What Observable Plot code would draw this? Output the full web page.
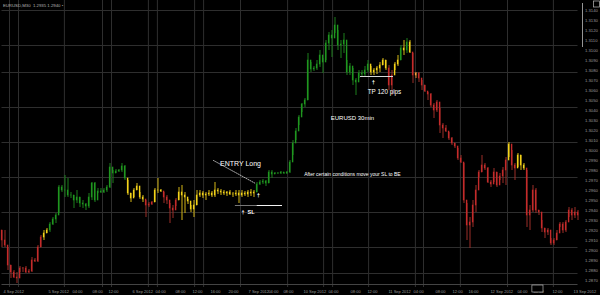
<!DOCTYPE html>
<html><head><meta charset="utf-8">
<script src="https://cdn.jsdelivr.net/npm/d3@7"></script>
<script src="https://cdn.jsdelivr.net/npm/@observablehq/plot@0.6"></script>
<style>
html,body{margin:0;padding:0;background:#000;}
#chart{width:600px;height:295px;overflow:hidden;}
</style></head><body><div id="chart"></div>
<script>
// EURUSD 30-minute bars (price)
const highs = [
1.2920,1.2920,1.2903,1.2885,1.2880,1.2878,1.2884,1.2883,1.2884,1.2881,
1.2893,1.2892,1.2905,1.2915,1.2920,1.2922,1.2928,1.2933,1.2937,1.2965,
1.2965,1.2975,1.2972,1.2958,1.2955,1.2960,1.2953,1.2950,1.2947,1.2957,
1.2968,1.2968,1.2962,1.2962,1.2962,1.2965,1.2987,1.2980,1.2981,1.2981,
1.2987,1.2985,1.2970,1.2957,1.2962,1.2967,1.2958,1.2955,1.2950,1.2948,
1.2949,1.2962,1.2972,1.2961,1.2958,1.2955,1.2947,1.2945,1.2952,1.2963,
1.2965,1.2958,1.2951,1.2945,1.2950,1.2960,1.2960,1.2959,1.2958,1.2960,
1.2959,1.2968,1.2962,1.2961,1.2960,1.2959,1.2960,1.2958,1.2960,1.2960,
1.2960,1.2959,1.2960,1.2961,1.2960,1.2968,1.2970,1.2971,1.2970,1.2980,
1.2980,1.2978,1.2978,1.2979,1.2978,1.2979,1.2990,1.3010,1.3022,1.3035,
1.3047,1.3052,1.3097,1.3088,1.3084,1.3090,1.3100,1.3092,1.3110,1.3118,
1.3120,1.3133,1.3120,1.3110,1.3117,1.3090,1.3087,1.3082,1.3072,1.3080,
1.3080,1.3084,1.3090,1.3084,1.3082,1.3084,1.3088,1.3092,1.3090,1.3085,
1.3080,1.3088,1.3095,1.3105,1.3110,1.3112,1.3110,1.3097,1.3078,1.3078,
1.3070,1.3065,1.3058,1.3057,1.3047,1.3050,1.3042,1.3027,1.3025,1.3018,
1.3013,1.3007,1.3002,1.2995,1.2987,1.2947,1.2933,1.2950,1.2965,1.2980,
1.2995,1.2987,1.2983,1.2970,1.2982,1.2978,1.2977,1.2983,1.2993,1.3008,
1.3000,1.2987,1.2997,1.2995,1.2987,1.2980,1.2945,1.2965,1.2962,1.2940,
1.2930,1.2922,1.2922,1.2912,1.2912,1.2920,1.2928,1.2928,1.2930,1.2943,
1.2942,1.2943,1.2940];
const lows = [
1.2903,1.2903,1.2880,1.2872,1.2872,1.2867,1.2878,1.2878,1.2877,1.2877,
1.2878,1.2888,1.2888,1.2903,1.2910,1.2917,1.2918,1.2925,1.2927,1.2937,
1.2958,1.2953,1.2953,1.2952,1.2942,1.2947,1.2943,1.2942,1.2940,1.2942,
1.2950,1.2948,1.2957,1.2957,1.2957,1.2958,1.2962,1.2967,1.2977,1.2978,
1.2978,1.2970,1.2955,1.2948,1.2953,1.2960,1.2951,1.2948,1.2933,1.2943,
1.2945,1.2948,1.2957,1.2958,1.2947,1.2946,1.2927,1.2932,1.2944,1.2950,
1.2930,1.2937,1.2946,1.2938,1.2933,1.2945,1.2953,1.2952,1.2950,1.2954,
1.2953,1.2953,1.2956,1.2955,1.2955,1.2954,1.2955,1.2953,1.2954,1.2947,
1.2953,1.2954,1.2953,1.2954,1.2953,1.2958,1.2965,1.2966,1.2964,1.2967,
1.2972,1.2976,1.2976,1.2976,1.2976,1.2976,1.2977,1.2995,1.3010,1.3025,
1.3038,1.3043,1.3050,1.3078,1.3079,1.3080,1.3083,1.3077,1.3090,1.3100,
1.3093,1.3117,1.3100,1.3092,1.3097,1.3075,1.3075,1.3065,1.3055,1.3072,
1.3073,1.3074,1.3078,1.3075,1.3075,1.3076,1.3078,1.3085,1.3080,1.3060,
1.3055,1.3080,1.3084,1.3090,1.3095,1.3097,1.3097,1.3067,1.3072,1.3068,
1.3060,1.3058,1.3050,1.3043,1.3032,1.3038,1.3017,1.3012,1.3018,1.3010,
1.3005,1.3002,1.2990,1.2987,1.2947,1.2910,1.2902,1.2923,1.2938,1.2973,
1.2978,1.2980,1.2967,1.2963,1.2968,1.2963,1.2970,1.2967,1.2965,1.2993,
1.2980,1.2970,1.2983,1.2980,1.2980,1.2923,1.2920,1.2938,1.2937,1.2935,
1.2918,1.2912,1.2915,1.2905,1.2905,1.2910,1.2923,1.2917,1.2918,1.2933,
1.2930,1.2932,1.2930];
const closes = [
1.2910,1.2905,1.2885,1.2878,1.2873,1.2872,1.2882,1.2882,1.2878,1.2879,
1.2890,1.2889,1.2903,1.2913,1.2917,1.2920,1.2926,1.2931,1.2935,1.2963,
1.2960,1.2960,1.2955,1.2955,1.2950,1.2953,1.2947,1.2946,1.2944,1.2953,
1.2967,1.2950,1.2959,1.2958,1.2960,1.2963,1.2983,1.2977,1.2979,1.2980,
1.2984,1.2972,1.2957,1.2952,1.2960,1.2964,1.2953,1.2951,1.2945,1.2946,
1.2948,1.2960,1.2960,1.2959,1.2953,1.2950,1.2942,1.2940,1.2950,1.2958,
1.2955,1.2953,1.2949,1.2941,1.2945,1.2955,1.2957,1.2955,1.2956,1.2957,
1.2955,1.2960,1.2959,1.2958,1.2957,1.2958,1.2956,1.2956,1.2957,1.2955,
1.2957,1.2956,1.2958,1.2957,1.2958,1.2966,1.2968,1.2969,1.2967,1.2978,
1.2976,1.2977,1.2977,1.2978,1.2977,1.2978,1.2988,1.3007,1.3019,1.3033,
1.3046,1.3050,1.3090,1.3081,1.3082,1.3086,1.3095,1.3088,1.3107,1.3115,
1.3112,1.3125,1.3105,1.3106,1.3110,1.3078,1.3084,1.3070,1.3068,1.3077,
1.3076,1.3080,1.3086,1.3078,1.3080,1.3082,1.3085,1.3090,1.3082,1.3065,
1.3075,1.3086,1.3090,1.3102,1.3100,1.3108,1.3098,1.3075,1.3077,1.3072,
1.3065,1.3059,1.3056,1.3045,1.3040,1.3048,1.3025,1.3022,1.3019,1.3012,
1.3007,1.3004,1.2992,1.2988,1.2950,1.2925,1.2928,1.2945,1.2960,1.2978,
1.2985,1.2982,1.2968,1.2966,1.2978,1.2965,1.2974,1.2980,1.2990,1.3006,
1.2985,1.2982,1.2995,1.2985,1.2982,1.2935,1.2940,1.2960,1.2940,1.2938,
1.2922,1.2918,1.2920,1.2907,1.2910,1.2917,1.2926,1.2920,1.2928,1.2940,
1.2935,1.2938,1.2935];
const firstOpen = 1.2920;
// indicator state per bar, as runs: r = bearish, y = neutral, g = bullish, o = signal
const stateRuns = [["r",14],["y",2],["g",26],["y",6],["r",3],["y",3],["r",5],["y",26],["g",38],
  ["y",6],["r",2],["y",2],["g",1],["y",1],["g",1],["y",1],["r",1],["o",1],["r",30],["y",1],["r",2],["y",3],["r",18]];

const yTicks = [1.3140,1.3130,1.3120,1.3110,1.3100,1.3090,1.3080,1.3070,1.3060,1.3050,1.3040,1.3030,1.3020,1.3010,
  1.3000,1.2990,1.2980,1.2970,1.2960,1.2950,1.2940,1.2930,1.2920,1.2910,1.2900,1.2890,1.2880,1.2870];
const gridPrices = [1.3140,1.3105,1.3078,1.3043,1.3008,1.2973,1.2938,1.2903,1.2877];
const gridBars = [2.5,5.5,20.8,33.5,36.5,48.8,51.8,64.2,67.2,79.5,95.2,107.2,110.2,122.2,137.8,140.5,152.8,168.5,183.8];
const xTickBars = [0.5,15.5,23.5,30.2,35.5,43.5,51.2,57.8,63.5,69.5,75.5,82.2,88.8,93.8,100.5,108.8,116.2,121.8,
  128.8,137.2,144.5,150.2,155.5,162.8,171.8,177.2,183.5,190.5];
const xTickLabels = ["4 Sep 2012","5 Sep 2012","04:00","08:00","12:00","6 Sep 2012","04:00","08:00","12:00","16:00",
  "20:00","7 Sep 2012","04:00","08:00","10 Sep 2012","04:00","08:00","12:00","11 Sep 2012","04:00","08:00","12:00",
  "16:00","12 Sep 2012","04:00","08:00","12:00","13 Sep 2012"];

const wickColor = {r:"#9c2e28", y:"#d4b616", g:"#1c7f1c", o:"#e58a30"};
const bodyColor = {r:"#c42a2a", y:"#f2d21a", g:"#1f961f", o:"#f5a040"};

const states = stateRuns.flatMap(([k,n]) => Array(n).fill(k));
const bars = closes.map((c,i) => ({i, high: highs[i], low: lows[i], open: i ? closes[i-1] : firstOpen, close: c, k: states[i]}));
const labelOf = new Map(xTickBars.map((b,i) => [b, xTickLabels[i]]));

const notes = [
  {text:"ENTRY Long", i:79.5, p:1.2987, size:7},
  {text:"EURUSD 30min", i:116.8, p:1.3032, size:6},
  {text:"TP 120 pips", i:127.5, p:1.3059, size:6.3},
];
const entryLine = [{i:70.5,p:1.2990},{i:84.5,p:1.2967}];

const chart = Plot.plot({
  width: 600, height: 295,
  marginLeft: 1.5, marginRight: 22.5, marginTop: 0, marginBottom: 8,
  x: {domain: [0, 192], axis: null},
  y: {domain: [1.2863, 1.3150], axis: null},
  style: {background: "#000", fontFamily: "'Liberation Sans', Arial, sans-serif"},
  marks: [
    Plot.ruleY(gridPrices, {stroke: "#2e2e2e", strokeWidth: 1}),
    Plot.ruleX(gridBars, {stroke: "#2e2e2e", strokeWidth: 1}),
    Plot.ruleY([1.2866], {stroke: "#444", strokeWidth: 1}),
    Plot.ruleX(bars, {x: "i", y1: "low", y2: "high", stroke: d => wickColor[d.k], strokeWidth: 1}),
    Plot.rect(bars, {x1: d => d.i - 0.2, x2: d => d.i + 0.27, y1: "open", y2: "close", fill: d => bodyColor[d.k], insetTop: -0.3, insetBottom: -0.3}),
    Plot.axisY(yTicks, {anchor: "right", tickSize: 0, tickPadding: 7, fontSize: 4.2, fill: "#9a9a9a", tickFormat: d => d.toFixed(4), label: null}),
    Plot.axisX(xTickBars, {anchor: "bottom", tickSize: 0, tickPadding: 2.5, fontSize: 4, fill: "#9a9a9a", textAnchor: "start", tickFormat: d => labelOf.get(d), label: null}),
    // annotations
    Plot.line(entryLine, {x: "i", y: "p", stroke: "#ddd", strokeWidth: 0.8, strokeDasharray: "1,1.3"}),
    Plot.ruleY([1.2945], {x1: 77.8, x2: 85, stroke: "#777", strokeWidth: 1}),
    Plot.ruleY([1.2945], {x1: 85, x2: 93.5, stroke: "#f2f2f2", strokeWidth: 1}),
    Plot.ruleY([1.3074], {x1: 119.5, x2: 130.5, stroke: "#d8d8d8", strokeWidth: 1}),
    Plot.text([{i:85.5,p:1.2955},{i:123.8,p:1.3068}], {x: "i", y: "p", text: () => "†", fill: "#fff", fontSize: 6, fontWeight: "bold"}),
    Plot.text([{i:82,p:1.2938}], {x: "i", y: "p", text: () => "†  SL", fill: "#fff", fontSize: 5.5, fontWeight: "bold"}),
    Plot.text(notes, {x: "i", y: "p", text: "text", fill: "#fff", fontSize: d => d.size}),
    Plot.text([{i:116.8,p:1.2976}], {x: "i", y: "p", text: () => "After certain conditions move your SL to BE", fill: "#fff", fontSize: 5, textLength: 98}),
    Plot.text([{i:0.3,p:1.3145}], {x: "i", y: "p", text: () => "EURUSD,M30  1.2935 1.2940 •", fill: "#b5b5b5", fontSize: 4.3, textAnchor: "start"}),
    Plot.ruleX([193.5], {y1: 1.3147, y2: 1.3103, stroke: "#bbb", strokeWidth: 0.8}),
    Plot.rect([{x1:197.3,x2:199.3,y1:1.3143,y2:1.3149}], {x1:"x1", x2:"x2", y1:"y1", y2:"y2", fill: "none", stroke: "#bbb", strokeWidth: 0.7}),
    Plot.rect([{x1:176.8,x2:180.5,y1:1.2858,y2:1.2865}], {x1:"x1", x2:"x2", y1:"y1", y2:"y2", fill: "#000", stroke: "#ccc", strokeWidth: 0.6})
  ]
});
document.getElementById("chart").appendChild(chart);
</script>
</body></html>
